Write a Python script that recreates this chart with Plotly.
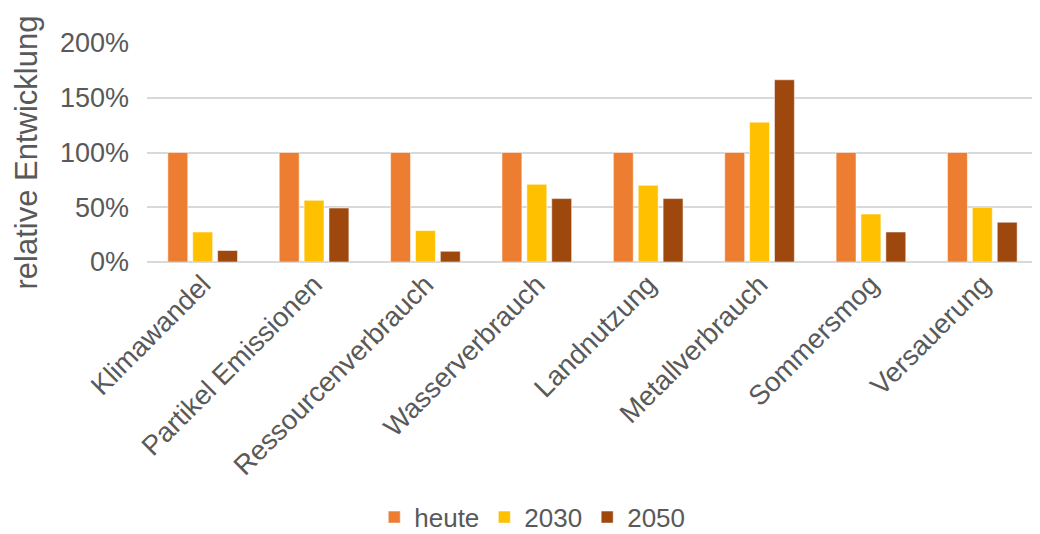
import plotly.graph_objects as go

categories = ["Klimawandel", "Partikel Emissionen", "Ressourcenverbrauch", "Wasserverbrauch",
              "Landnutzung", "Metallverbrauch", "Sommersmog", "Versauerung"]
heute = [1.00, 1.00, 1.00, 1.00, 1.00, 1.00, 1.00, 1.00]
y2030 = [0.274, 0.563, 0.287, 0.709, 0.700, 1.277, 0.438, 0.500]
y2050 = [0.105, 0.493, 0.098, 0.579, 0.579, 1.664, 0.274, 0.363]
tick_vals = [0, 0.5, 1.0, 1.5, 2.0]
tick_text = ["0%", "50%", "100%", "150%", "200%"]

series = [("heute", heute, "#ED7D31"), ("2030", y2030, "#FFC000"), ("2050", y2050, "#9E480E")]

fig = go.Figure()
for name, vals, col in series:
    fig.add_trace(go.Bar(x=categories, y=vals, name=name, marker_color=col,
                         marker_line_color="rgba(255,255,255,0.5)", marker_line_width=1))

font_col = "#595959"
# page body has an 8px default margin: figure is sized/offset to compensate
fig.update_layout(
    width=1032, height=526,
    margin=dict(l=139, r=2, t=35, b=272, autoexpand=False),
    paper_bgcolor="white", plot_bgcolor="white",
    barmode="group", bargap=0.33, bargroupgap=0.2,
    font=dict(family="Liberation Sans, Arial, sans-serif", color=font_col, size=27),
    showlegend=True,
    legend=dict(orientation="h", xref="container", x=0.508, xanchor="center",
                yref="container", y=0.032, yanchor="middle",
                font=dict(size=26, color=font_col), traceorder="normal"),
    xaxis=dict(tickangle=-45, tickfont=dict(size=27.5, color=font_col), showgrid=False,
               showline=False, ticks="", automargin=False),
    yaxis=dict(range=[0, 2.0], tickvals=tick_vals, ticktext=tick_text, automargin=False,
               tickfont=dict(size=27, color=font_col), showgrid=True, gridcolor="#D9D9D9",
               gridwidth=1.5, zeroline=True, zerolinecolor="#D9D9D9", zerolinewidth=1.5,
               ticklabelstandoff=17,
               title=dict(text="relative Entwicklung", font=dict(size=31, color=font_col), standoff=13)),
)
fig.write_html("out.html")
